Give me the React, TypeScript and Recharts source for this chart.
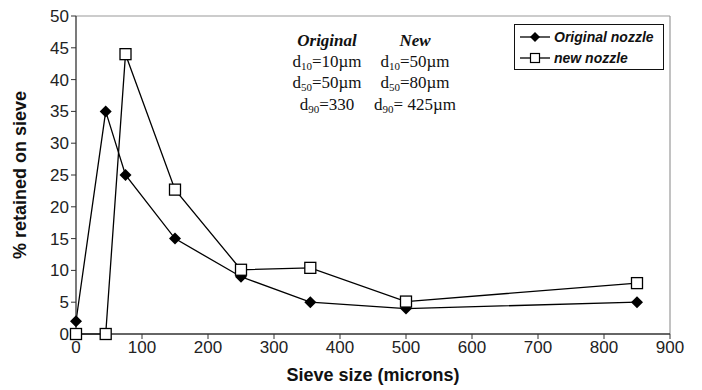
import React from 'react';
import { LineChart, Line, XAxis, YAxis, ReferenceLine } from 'recharts';

const sieveSizes = [0, 45, 75, 150, 250, 355, 500, 850];
const originalNozzle = [2, 35, 25, 15, 9, 5, 4, 5];
const newNozzle = [0, 0, 44, 22.7, 10.1, 10.4, 5.1, 8];
const xTicks = [0, 100, 200, 300, 400, 500, 600, 700, 800, 900];
const yTicks = [0, 5, 10, 15, 20, 25, 30, 35, 40, 45, 50];

const data = sieveSizes.map((s, i) => ({
  size: s,
  original: originalNozzle[i],
  newN: newNozzle[i],
}));

const Diamond = (props: any) => {
  const { cx, cy } = props;
  if (cx == null || cy == null) return null;
  const r = 6;
  return (
    <path
      d={`M${cx},${cy - r} L${cx + r},${cy} L${cx},${cy + r} L${cx - r},${cy} Z`}
      fill="#000"
    />
  );
};

const Square = (props: any) => {
  const { cx, cy } = props;
  if (cx == null || cy == null) return null;
  const h = 5.5;
  return (
    <rect x={cx - h} y={cy - h} width={h * 2} height={h * 2} fill="#fff" stroke="#000" strokeWidth={1.3} />
  );
};

const sans = 'Arial, "Liberation Sans", sans-serif';
const tickStyle = { fontFamily: sans, fontSize: 17, fill: '#222' };
const serif = '"Times New Roman", "Liberation Serif", serif';

const Note = ({ left, title, lines }: { left: number; title: string; lines: [string, string][] }) => (
  <div
    style={{
      position: 'absolute',
      left,
      top: 31,
      width: 110,
      textAlign: 'center',
      fontFamily: serif,
      fontSize: 17,
      lineHeight: '20.5px',
      color: '#111',
    }}
  >
    <div style={{ fontWeight: 'bold', fontStyle: 'italic' }}>{title}</div>
    {lines.map(([sub, rest], i) => (
      <div key={i}>
        d<sub style={{ fontSize: 11, verticalAlign: 'baseline', position: 'relative', top: 3 }}>{sub}</sub>
        {rest}
      </div>
    ))}
  </div>
);

export default function App() {
  return (
    <div style={{ position: 'absolute', left: 0, top: 0, width: 702, height: 390, background: '#fff' }}>
      <LineChart width={702} height={390} data={data} margin={{ top: 16, right: 32, bottom: 0, left: 0 }}>
        <ReferenceLine y={50} stroke="#999" strokeWidth={1.2} />
        <ReferenceLine x={900} stroke="#999" strokeWidth={1.2} />
        <XAxis
          dataKey="size"
          type="number"
          domain={[0, 900]}
          ticks={xTicks}
          interval={0}
          tick={tickStyle}
          tickLine={{ stroke: '#333' }}
          axisLine={{ stroke: '#333', strokeWidth: 1.3 }}
          tickSize={5}
          height={56}
          label={{
            value: 'Sieve size (microns)',
            position: 'insideBottom',
            offset: 9,
            style: { fontFamily: sans, fontSize: 18, fontWeight: 'bold', fill: '#111' },
          }}
        />
        <YAxis
          type="number"
          domain={[0, 50]}
          ticks={yTicks}
          interval={0}
          tick={tickStyle}
          tickLine={{ stroke: '#333' }}
          axisLine={{ stroke: '#333', strokeWidth: 1.3 }}
          tickSize={5}
          width={76}
          label={{
            value: '% retained on sieve',
            angle: -90,
            position: 'insideLeft',
            offset: 20,
            style: {
              textAnchor: 'middle',
              fontFamily: sans,
              fontSize: 18,
              fontWeight: 'bold',
              fill: '#111',
            },
          }}
        />
        <Line
          dataKey="original"
          stroke="#000"
          strokeWidth={1.3}
          dot={<Diamond />}
          activeDot={false}
          isAnimationActive={false}
        />
        <Line
          dataKey="newN"
          stroke="#000"
          strokeWidth={1.3}
          dot={<Square />}
          activeDot={false}
          isAnimationActive={false}
        />
      </LineChart>

      <Note left={272} title="Original" lines={[['10', '=10µm'], ['50', '=50µm'], ['90', '=330']]} />
      <Note left={360} title="New" lines={[['10', '=50µm'], ['50', '=80µm'], ['90', '= 425µm']]} />

      <div
        style={{
          position: 'absolute',
          left: 514,
          top: 24,
          width: 150,
          height: 46,
          border: '1.5px solid #111',
          boxSizing: 'border-box',
          background: '#fff',
        }}
      >
        <svg width={150} height={46} style={{ position: 'absolute', left: 0, top: 0 }}>
          <line x1={5} y1={12} x2={35} y2={12} stroke="#000" strokeWidth={1.3} />
          <path d="M20,7 L25,12 L20,17 L15,12 Z" fill="#000" />
          <line x1={5} y1={33} x2={35} y2={33} stroke="#000" strokeWidth={1.3} />
          <rect x={15.5} y={28.5} width={9} height={9} fill="#fff" stroke="#000" strokeWidth={1.2} />
          <text x={39} y={17} style={{ fontFamily: sans, fontSize: 14, fontWeight: 'bold', fontStyle: 'italic' }} fill="#111">
            Original nozzle
          </text>
          <text x={39} y={38} style={{ fontFamily: sans, fontSize: 14, fontWeight: 'bold', fontStyle: 'italic' }} fill="#111">
            new nozzle
          </text>
        </svg>
      </div>
    </div>
  );
}
